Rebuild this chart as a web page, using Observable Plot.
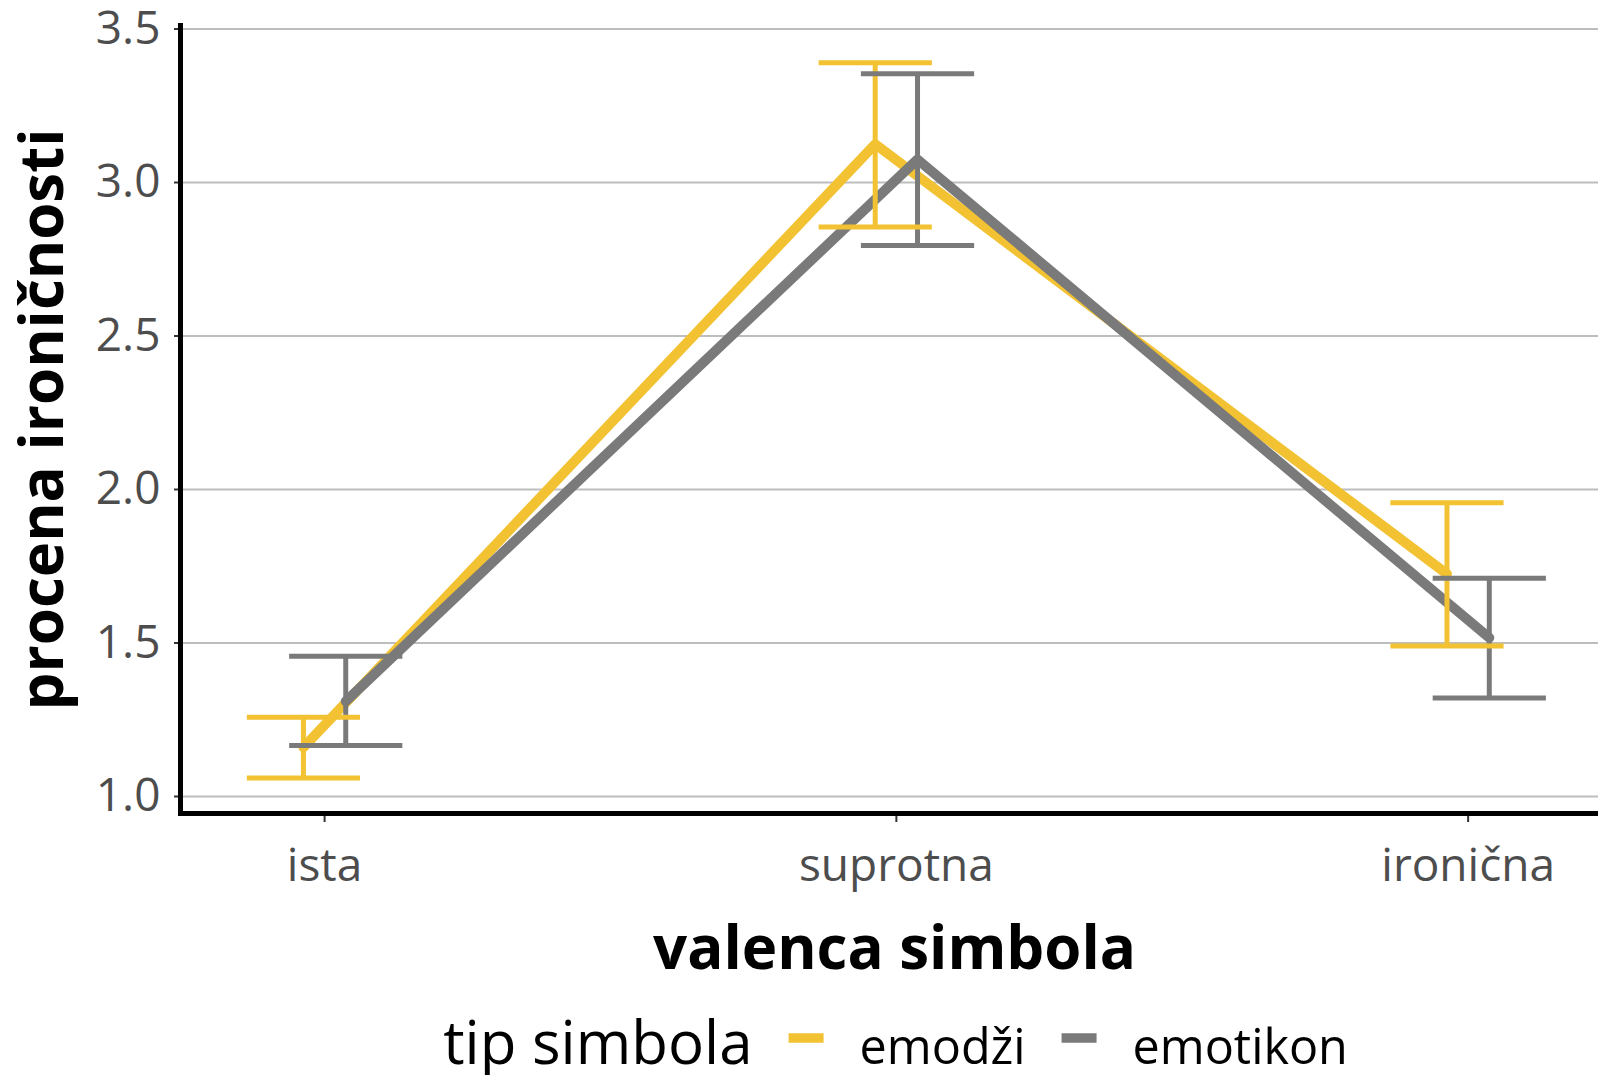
<!DOCTYPE html>
<html><head><meta charset="utf-8">
<script src="https://cdn.jsdelivr.net/npm/d3@7"></script>
<script src="https://cdn.jsdelivr.net/npm/@observablehq/plot@0.6"></script>
<style>
body{margin:0;background:#fff;font-family:"Open Sans",sans-serif}
#chart svg{display:block}
</style>
</head><body>
<div id="chart"></div>
<script>
// ---- data ----
const categories = ["ista", "suprotna", "ironična"];
const series = ["emodži", "emotikon"];
const emodziMean = [1.16, 3.125, 1.725];
const emodziLow  = [1.06, 2.855, 1.49];
const emodziHigh = [1.258, 3.39, 1.957];
const emotikonMean = [1.31, 3.075, 1.517];
const emotikonLow  = [1.166, 2.795, 1.321];
const emotikonHigh = [1.457, 3.354, 1.711];
const yTicks = [1.0, 1.5, 2.0, 2.5, 3.0, 3.5];
const seriesColors = ["#F2C232", "#7A7A7A"];

const means = [emodziMean, emotikonMean];
const lows = [emodziLow, emotikonLow];
const highs = [emodziHigh, emotikonHigh];
const dodge = [-0.037, 0.037];
const capHalf = 0.099;

const rows = [];
series.forEach((s, k) => categories.forEach((c, i) => rows.push({
  s, i, x: i + dodge[k], mean: means[k][i], lo: lows[k][i], hi: highs[k][i]
})));

const W = 1598, H = 985;
const plot = Plot.plot({
  width: W, height: H,
  marginTop: 25, marginBottom: H - 813, marginLeft: 180, marginRight: 0,
  style: {fontFamily: "'Open Sans', sans-serif", background: "#fff", overflow: "visible"},
  x: {type: "linear", domain: [-0.252, 2.228]},
  y: {domain: [0.9446, 3.5114]},
  color: {domain: series, range: seriesColors},
  marks: [
    Plot.gridY(yTicks, {stroke: "#bdbdbd", strokeOpacity: 1, strokeWidth: 1.8}),
    Plot.axisY(yTicks, {tickFormat: d3.format(".1f"), tickSize: 6, tickPadding: 14, fontSize: 46,
      fill: "#4d4d4d", stroke: "#333", strokeWidth: 2, label: null}),
    Plot.axisX([0, 1, 2], {tickFormat: i => categories[i], tickSize: 9, tickPadding: 26, fontSize: 46,
      fill: "#4d4d4d", stroke: "#333", strokeWidth: 2, label: null}),
    Plot.line(rows, {x: "x", y: "mean", z: "s", stroke: "s", strokeWidth: 10,
      strokeLinecap: "round", strokeLinejoin: "round"}),
    Plot.ruleX(rows, {x: "x", y1: "lo", y2: "hi", stroke: "s", strokeWidth: 5}),
    Plot.link(rows, {x1: d => d.x - capHalf, x2: d => d.x + capHalf, y1: "lo", y2: "lo", stroke: "s", strokeWidth: 5}),
    Plot.link(rows, {x1: d => d.x - capHalf, x2: d => d.x + capHalf, y1: "hi", y2: "hi", stroke: "s", strokeWidth: 5}),
    Plot.frame({anchor: "left", stroke: "#000", strokeWidth: 5}),
    Plot.frame({anchor: "bottom", stroke: "#000", strokeWidth: 5}),
    Plot.text(["valenca simbola"], {text: d => d, frameAnchor: "bottom", lineAnchor: "middle", textAnchor: "middle",
      dy: 136, dx: 5, fontSize: 60, fontWeight: "bold", fill: "#000"}),
    Plot.text(["procena ironičnosti"], {text: d => d, frameAnchor: "left", lineAnchor: "middle", textAnchor: "middle",
      rotate: -90, dx: -137, fontSize: 60, fontWeight: "bold", fill: "#000"})
  ]
});
document.getElementById("chart").appendChild(plot);

// ---- legend ----
const LH = 1075 - H;
const leg = d3.select("#chart").append("svg")
  .attr("width", W).attr("height", LH)
  .style("display", "block")
  .style("font-family", "'Open Sans', sans-serif");
const g = leg.append("g");
const baseY = 1064 - H, swY = 1038 - H, gap = 36, swW = 35;
let cx = 0;
const t = g.append("text").attr("x", cx).attr("y", baseY).attr("font-size", 60).attr("fill", "#000").text("tip simbola");
cx += t.node().getComputedTextLength() + gap;
series.forEach((s, k) => {
  g.append("line").attr("x1", cx).attr("x2", cx + swW).attr("y1", swY).attr("y2", swY)
    .attr("stroke", seriesColors[k]).attr("stroke-width", 9.5);
  cx += swW + gap;
  const lt = g.append("text").attr("x", cx).attr("y", baseY).attr("font-size", 48.5).attr("fill", "#000").text(s);
  cx += lt.node().getComputedTextLength() + (k < series.length - 1 ? gap : 0);
});
const center = (446 + 1345) / 2;
g.attr("transform", `translate(${center - cx / 2},0)`);
</script>
</body></html>
